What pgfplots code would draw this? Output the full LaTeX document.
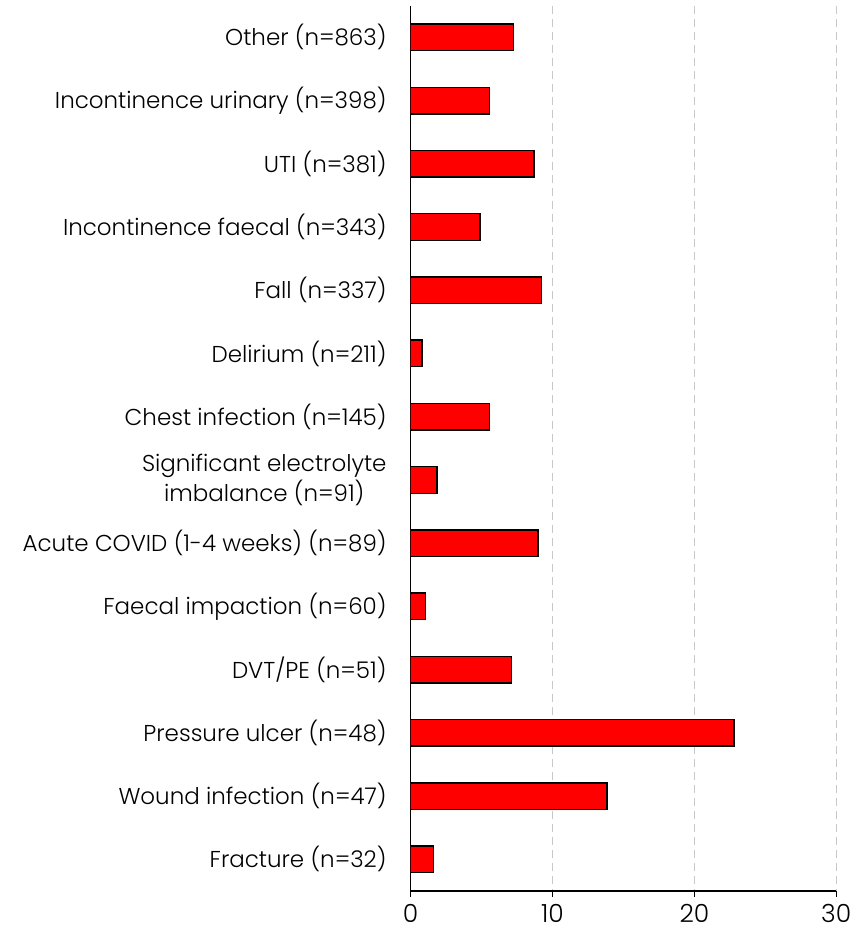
\documentclass[border=0pt]{standalone}
\usepackage{fontspec}
\setmainfont{Poppins Light}
\usepackage{pgfplots}
\pgfplotsset{compat=1.18}
\definecolor{gridgray}{RGB}{200,200,200}

\begin{document}
\begin{tikzpicture}
\begin{axis}[
  scale only axis,
  width=213pt, height=443pt,
  xbar, bar width=13.3pt,
  xmin=0, xmax=30,
  ymin=-0.5, ymax=13.5,
  y dir=reverse,
  axis x line*=bottom, axis y line*=left,
  axis line style={line width=0.6pt},
  xtick={0,10,20,30},
  xmajorgrids,
  grid style={gridgray, dash pattern=on 4pt off 2.5pt, line width=0.7pt},
  ytick={0,...,13},
  yticklabels={
    Other (n=863),
    Incontinence urinary (n=398),
    UTI (n=381),
    Incontinence faecal (n=343),
    Fall (n=337),
    Delirium (n=211),
    Chest infection (n=145),
    {Significant electrolyte\\imbalance (n=91)},
    Acute COVID (1-4 weeks) (n=89),
    Faecal impaction (n=60),
    DVT/PE (n=51),
    Pressure ulcer (n=48),
    Wound infection (n=47),
    Fracture (n=32)},
  ytick style={draw=none},
  xtick style={black, line width=0.6pt},
  tick align=outside,
  major tick length=3pt,
  y tick label style={font=\fontsize{11.5}{12.5}\selectfont, align=center, xshift=-5.5pt},
  x tick label style={font=\fontsize{12.5}{14}\selectfont},
  /pgf/number format/assume math mode=true,
]
\addplot[fill=red, draw=black, line width=0.7pt] coordinates {
  (7.25,0)
  (5.54,1)
  (8.69,2)
  (4.89,3)
  (9.23,4)
  (0.80,5)
  (5.54,6)
  (1.86,7)
  (8.97,8)
  (1.06,9)
  (7.13,10)
  (22.8,11)
  (13.85,12)
  (1.60,13)};
\end{axis}
% white margins as in the reference
\path (current bounding box.south west) ++(-8pt,-4pt);
\path (current bounding box.north east) ++(4pt,2.5pt);
\end{tikzpicture}
\end{document}
